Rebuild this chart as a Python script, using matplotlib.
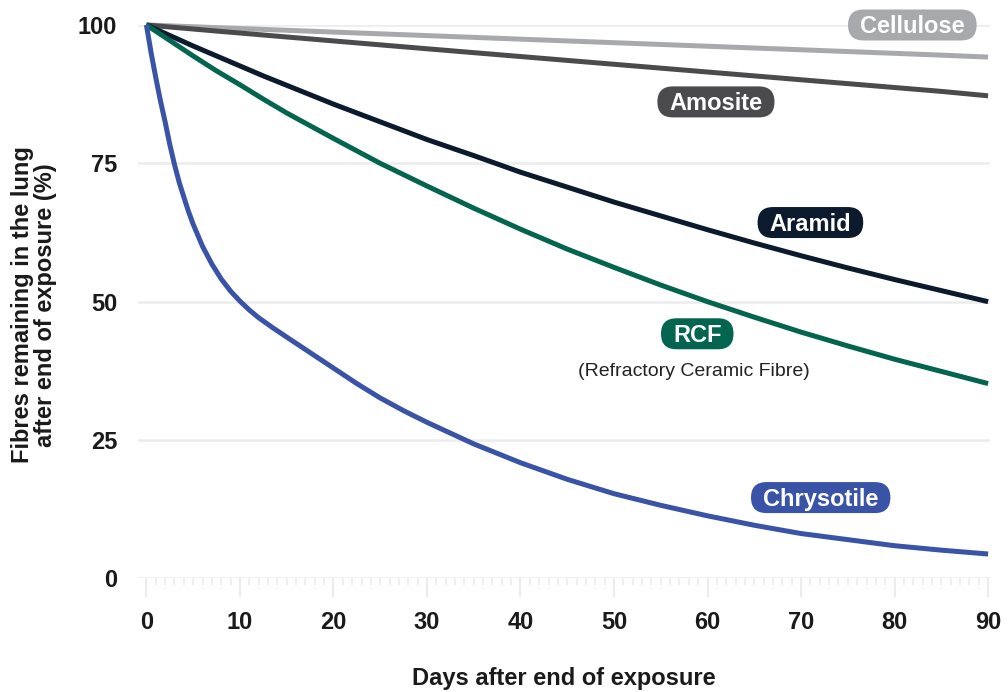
import matplotlib
matplotlib.use("Agg")
import matplotlib.pyplot as plt
from matplotlib.patches import FancyBboxPatch
from matplotlib.transforms import IdentityTransform
import numpy as np

# ---- data ----
days = [0, 2.5, 5, 7.5, 10, 12.5, 15, 17.5, 20, 25, 30, 35, 40, 45, 50,
        55, 60, 65, 70, 75, 80, 85, 90]
cellulose = [100, 99.84, 99.68, 99.52, 99.36, 99.2, 99.04, 98.88, 98.72,
             98.4, 98.08, 97.76, 97.44, 97.12, 96.8,
             96.48, 96.16, 95.84, 95.52, 95.2, 94.88, 94.55, 94.2]
amosite = [100, 99.63, 99.27, 98.9, 98.55, 98.19, 97.83, 97.48, 97.12,
           96.41, 95.7, 95.0, 94.3, 93.6, 92.9,
           92.2, 91.5, 90.8, 90.1, 89.4, 88.7, 88.0, 87.2]
aramid = [100, 98.1, 96.2, 94.4, 92.6, 90.8, 89.1, 87.4, 85.7,
          82.5, 79.3, 76.4, 73.4, 70.7, 68.0,
          65.5, 63.0, 60.6, 58.3, 56.1, 54.0, 52.0, 50.0]
rcf = [100, 97.2, 94.4, 91.7, 89.2, 86.6, 84.1, 81.8, 79.5,
       75.0, 70.9, 66.9, 63.1, 59.5, 56.2,
       53.0, 50.0, 47.2, 44.5, 42.0, 39.6, 37.4, 35.2]

days_chrysotile = [0, 0.5, 1, 1.5, 2, 2.5, 3, 3.5, 4, 4.5, 5, 6, 7, 8, 9, 10,
                   11, 12, 13.5, 15, 17.5, 20, 22.5, 25, 27.5, 30, 35, 40, 45,
                   50, 55, 60, 65, 70, 75, 80, 85, 90]
chrysotile = [100, 95.0, 90.5, 86.3, 82.5, 78.4, 74.8, 71.6, 68.9, 66.3,
              64.0, 60.0, 56.8, 54.1, 51.9, 50.1, 48.5, 47.1, 45.3, 43.6,
              40.8, 38.0, 35.2, 32.6, 30.3, 28.2, 24.3, 20.9, 17.9,
              15.3, 13.2, 11.3, 9.6, 8.1, 7.0, 5.9, 5.1, 4.4]

series_names = ["Cellulose", "Amosite", "Aramid", "RCF", "Chrysotile"]
series_days = [days, days, days, days, days_chrysotile]
series_values = [cellulose, amosite, aramid, rcf, chrysotile]
colors = ["#a8a9ac", "#4b4b4d", "#0b1a2c", "#03654f", "#3953a6"]
label_pos = [(81.9, 100.0), (60.9, 86.1), (71.0, 64.3), (58.9, 44.2), (72.1, 14.6)]

x_ticks = [0, 10, 20, 30, 40, 50, 60, 70, 80, 90]
y_ticks = [0, 25, 50, 75, 100]

plt.rcParams['font.family'] = ['Liberation Sans', 'DejaVu Sans']

DPI = 100
fig = plt.figure(figsize=(10.08, 6.92), dpi=DPI)
ax = fig.add_axes([0.1369, 0.1642, 0.9821 - 0.1369, 0.9639 - 0.1642])

grid_c = "#ececec"
txt_c = "#1a1a1a"
for yv in y_ticks:
    ax.axhline(yv, color=grid_c, lw=1.8, zorder=0)

for dd, vals, c in zip(series_days, series_values, colors):
    ax.plot(dd, vals, color=c, lw=3.6, solid_capstyle='butt',
            solid_joinstyle='round', zorder=3, clip_on=False)

ax.set_xlim(-0.9, 90.2)
ax.set_ylim(0, 100)
for s in ax.spines.values():
    s.set_visible(False)

ax.set_xticks(x_ticks)
ax.set_xticklabels([str(t) for t in x_ticks])
ax.set_xticks(np.arange(0, 91, 1), minor=True)
ax.tick_params(axis='x', which='major', length=13.5, width=1.5, color=grid_c,
               pad=10, labelsize=17, labelcolor=txt_c)
ax.tick_params(axis='x', which='minor', length=5, width=1.2, color=grid_c)
for lab in ax.get_xticklabels():
    lab.set_fontweight("bold")

ax.set_yticks(y_ticks)
ax.set_yticklabels([str(t) for t in y_ticks])
ax.tick_params(axis='y', length=0, pad=15, labelsize=17, labelcolor=txt_c)
for lab in ax.get_yticklabels():
    lab.set_fontweight("bold")

fig.text(563.5 / 1008, 1 - 678 / 692, "Days after end of exposure", fontsize=17,
         fontweight="bold", ha="center", va="center", color=txt_c)
fig.text(34 / 1008, 1 - 305 / 692, "Fibres remaining in the lung\nafter end of exposure (%)",
         fontsize=17, fontweight="bold", ha="center", va="center", rotation=90,
         color=txt_c, linespacing=1.0)

# pill-shaped labels (drawn in pixel units)
fig.canvas.draw()
renderer = fig.canvas.get_renderer()
W, H = fig.bbox.width, fig.bbox.height
label_fs = 17
cap_px = 0.716 * label_fs * DPI / 72.0
box_h = 31.0
hpad = 12.0
for name, (lx, ly), c in zip(series_names, label_pos, colors):
    cx, cy = ax.transData.transform((lx, ly))
    t = fig.text(cx / W, (cy - cap_px / 2) / H, name, color="white", fontsize=label_fs,
                 fontweight="bold", ha="center", va="baseline", zorder=6)
    ext = t.get_window_extent(renderer)
    bw = ext.width + 2 * hpad
    p = FancyBboxPatch((cx - bw / 2, cy - box_h / 2), bw, box_h,
                       boxstyle="round,pad=0,rounding_size=%.2f" % (box_h / 2),
                       fc=c, ec="none", transform=IdentityTransform(), zorder=5)
    fig.add_artist(p)

sx, sy = ax.transData.transform((58.5, 37.3))
fig.text(sx / W, sy / H, "(Refractory Ceramic Fibre)", color="#222222", fontsize=14,
         ha="center", va="center", zorder=6)

fig.savefig("out.png", dpi=DPI)
